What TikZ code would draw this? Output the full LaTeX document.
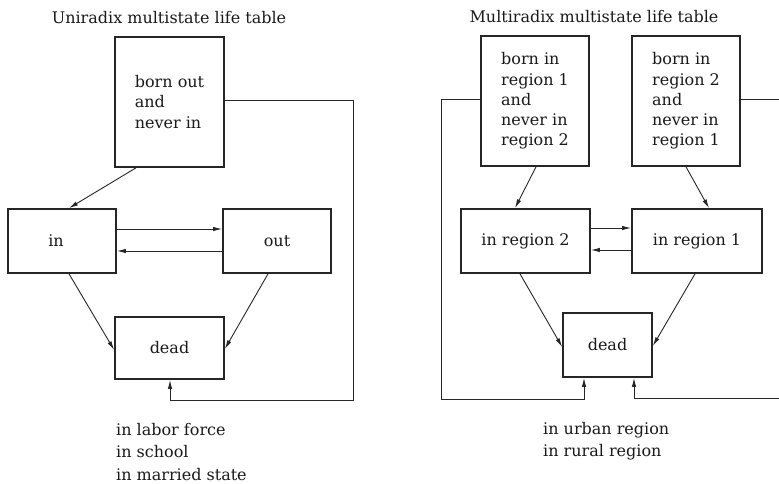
\documentclass[tikz,border=0pt]{standalone}
\usepackage{fontspec}
\setmainfont{DejaVu Serif}
\usetikzlibrary{arrows.meta,calc}
\begin{document}
\begin{tikzpicture}[x=1pt,y=-1pt,
  every node/.style={font=\fontsize{16}{20.3}\selectfont, text=black!90},
  box/.style={draw=black!85, line width=1.7pt, inner sep=0pt, align=left},
  conn/.style={draw=black!85, line width=0.9pt},
  arr/.style={conn, -{Latex[length=9pt,width=4.4pt]}},
  title/.style={inner sep=0pt},
  note/.style={inner sep=0pt, align=left, anchor=north west, font=\fontsize{16}{22.5}\selectfont}
]
\useasboundingbox (0,0) rectangle (779,484);

% titles
\node[title] (tL) at (169,17.5) {Uniradix multistate life table};
\node[title] (tR) at (594,17) {Multiradix multistate life table};

% left diagram
\node[box, minimum width=109pt, minimum height=130pt] (born) at (169.5,102) {born out\\and\\never in};
\node[box, minimum width=108pt, minimum height=64pt] (in) at (62,241) {in\hspace*{12pt}};
\node[box, minimum width=108pt, minimum height=64pt] (out) at (277,241) {out};
\node[box, minimum width=109pt, minimum height=62pt] (deadL) at (169.5,348) {dead};

\draw[arr] ([xshift=-33.5pt]born.south) -- ([xshift=7pt]in.north);
\draw[arr] ([yshift=12pt]in.east) -- ([yshift=12pt]out.west);
\draw[arr] ([yshift=-10pt]out.west) -- ([yshift=-10pt]in.east);
\draw[arr] ([xshift=7pt]in.south) -- ([yshift=-2pt]deadL.west);
\draw[arr] ([xshift=-9pt]out.south) -- ([yshift=-1pt]deadL.east);
\coordinate (cL) at (353,400);
\draw[arr] ([yshift=2pt]born.east) -| (cL) -| ([xshift=0.5pt]deadL.south);

\node[note] (notesL) at (116,423) {in labor force\\in school\\in married state};

% right diagram
\node[box, minimum width=108pt, minimum height=130pt] (b1) at (535,101) {born in\\region 1\\and\\never in\\region 2};
\node[box, minimum width=108pt, minimum height=130pt] (b2) at (686,101) {born in\\region 2\\and\\never in\\region 1};
\node[box, minimum width=129pt, minimum height=64pt] (r2) at (525.5,241) {in region 2};
\node[box, minimum width=130pt, minimum height=64pt] (r1) at (697,241) {in region 1};
\node[box, minimum width=89pt, minimum height=64pt] (deadR) at (607.5,345) {dead};

\draw[arr] ([xshift=1pt]b1.south) -- ([xshift=-10.5pt]r2.north);
\draw[arr] (b2.south) -- ([xshift=12pt]r1.north);
\draw[arr] ([yshift=13pt]r2.east) -- ([yshift=13pt]r1.west);
\draw[arr] ([yshift=-9pt]r1.west) -- ([yshift=-9pt]r2.east);
\draw[arr] ([xshift=-5.5pt]r2.south) -- ([yshift=-2pt]deadR.west);
\draw[arr] ([xshift=-2pt]r1.south) -- ([yshift=-1pt]deadR.east);
\coordinate (cR1) at (441,399);
\draw[arr] ([yshift=2pt]b1.west) -| (cR1) -| ([xshift=-23.5pt]deadR.south);
\coordinate (eR1) at (779,99);
\coordinate (eR2) at (779,398);
\draw[conn] ([yshift=2pt]b2.east) -- (eR1);
\draw[arr] (eR2) -| ([xshift=26.5pt]deadR.south);

\node[note] (notesR) at (543,422) {in urban region\\in rural region};
\end{tikzpicture}
\end{document}
